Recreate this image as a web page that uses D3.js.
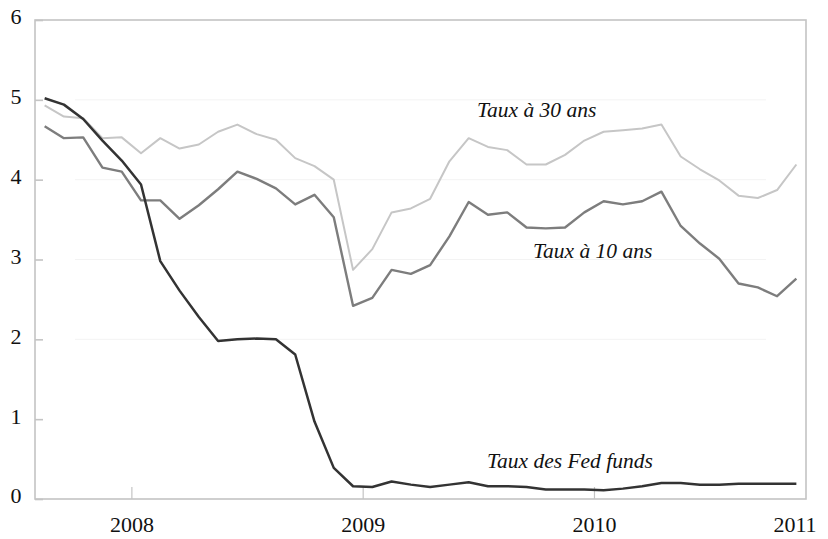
<!DOCTYPE html>
<html>
<head>
<meta charset="utf-8">
<script src="https://cdn.jsdelivr.net/npm/d3@7/dist/d3.min.js"></script>
<style>
  html, body { margin: 0; padding: 0; background: #fff; }
  svg { display: block; }
  text { font-family: "Liberation Serif", "Times New Roman", serif; fill: #111; }
</style>
</head>
<body>
<svg id="chart" width="828" height="539"></svg>
<script>
// Monthly data, Aug 2007 – Nov 2010
const months = [
  "2007-08","2007-09","2007-10","2007-11","2007-12",
  "2008-01","2008-02","2008-03","2008-04","2008-05","2008-06","2008-07","2008-08","2008-09","2008-10","2008-11","2008-12",
  "2009-01","2009-02","2009-03","2009-04","2009-05","2009-06","2009-07","2009-08","2009-09","2009-10","2009-11","2009-12",
  "2010-01","2010-02","2010-03","2010-04","2010-05","2010-06","2010-07","2010-08","2010-09","2010-10","2010-11"
];
const fedFunds = [
  5.02, 4.94, 4.76, 4.49, 4.24,
  3.94, 2.98, 2.61, 2.28, 1.98, 2.00, 2.01, 2.00, 1.81, 0.97, 0.39, 0.16,
  0.15, 0.22, 0.18, 0.15, 0.18, 0.21, 0.16, 0.16, 0.15, 0.12, 0.12, 0.12,
  0.11, 0.13, 0.16, 0.20, 0.20, 0.18, 0.18, 0.19, 0.19, 0.19, 0.19
];
const tenYear = [
  4.67, 4.52, 4.53, 4.15, 4.10,
  3.74, 3.74, 3.51, 3.68, 3.88, 4.10, 4.01, 3.89, 3.69, 3.81, 3.53, 2.42,
  2.52, 2.87, 2.82, 2.93, 3.29, 3.72, 3.56, 3.59, 3.40, 3.39, 3.40, 3.59,
  3.73, 3.69, 3.73, 3.85, 3.42, 3.20, 3.01, 2.70, 2.65, 2.54, 2.76
];
const thirtyYear = [
  4.93, 4.79, 4.77, 4.52, 4.53,
  4.33, 4.52, 4.39, 4.44, 4.60, 4.69, 4.57, 4.50, 4.27, 4.17, 4.00, 2.87,
  3.13, 3.59, 3.64, 3.76, 4.23, 4.52, 4.41, 4.37, 4.19, 4.19, 4.31, 4.49,
  4.60, 4.62, 4.64, 4.69, 4.29, 4.13, 3.99, 3.80, 3.77, 3.87, 4.19
];
const yTicks = [0, 1, 2, 3, 4, 5, 6];
const yGrid = [2, 3, 4, 5];
const xTickLabels = ["2008", "2009", "2010", "2011"];
const xTickMonths = ["2008-01", "2009-01", "2010-01", "2011-01"];
const seriesLabels = ["Taux à 30 ans", "Taux à 10 ans", "Taux des Fed funds"];

const svg = d3.select("#chart");
const mLeft = 35, mRight = 806, mTop = 20, mBottom = 499;

const x = d3.scaleLinear().domain([0, months.length]).range([mLeft, mRight]);
const y = d3.scaleLinear().domain([0, 6]).range([mBottom, mTop]);

// faint gridlines
svg.append("g").selectAll("line").data(yGrid).join("line")
  .attr("x1", mLeft + 40).attr("x2", mRight - 40)
  .attr("y1", d => y(d)).attr("y2", d => y(d))
  .attr("stroke", "#f3f3f3").attr("stroke-width", 1);

// frame
const frameColor = "#c4c4c4";
svg.append("rect")
  .attr("x", mLeft).attr("y", mTop)
  .attr("width", mRight - mLeft).attr("height", mBottom - mTop)
  .attr("fill", "none").attr("stroke", frameColor).attr("stroke-width", 1.6);

// Y axis (ticks inward)
const yAxis = d3.axisLeft(y).tickValues(yTicks).tickSize(-8).tickFormat(d3.format("d"));
const gy = svg.append("g").attr("transform", `translate(${mLeft},0)`).call(yAxis);
gy.select(".domain").remove();
gy.selectAll(".tick line").attr("stroke", frameColor).attr("stroke-width", 1.6);
gy.selectAll(".tick text")
  .attr("x", -19).attr("dy", "0.18em")
  .attr("text-anchor", "middle")
  .style("font-family", '"Liberation Serif", serif')
  .style("font-size", "22px").attr("fill", "#111");

// X axis (ticks at year boundaries, inward)
const tickPos = xTickMonths.map(m => {
  const i = months.indexOf(m);
  return i >= 0 ? i : months.length;
});
const xAxis = d3.axisBottom(x).tickValues(tickPos.slice(0, 3)).tickSize(-12)
  .tickFormat((d, i) => xTickLabels[i]);
const gx = svg.append("g").attr("transform", `translate(0,${mBottom})`).call(xAxis);
gx.select(".domain").remove();
gx.selectAll(".tick line").attr("stroke", frameColor).attr("stroke-width", 1.2);
gx.selectAll(".tick text")
  .attr("y", 17).attr("dy", "0.71em")
  .style("font-family", '"Liberation Serif", serif')
  .style("font-size", "22px").attr("fill", "#111");
// last year label at the right edge
gx.append("text")
  .attr("x", x(tickPos[3]) - 11).attr("y", 17).attr("dy", "0.71em")
  .attr("text-anchor", "middle")
  .style("font-family", '"Liberation Serif", serif')
  .style("font-size", "22px").attr("fill", "#111")
  .text(xTickLabels[3]);

// lines
const line = d3.line().x((d, i) => x(i + 0.5)).y(d => y(d));
const series = [
  { values: thirtyYear, color: "#c6c6c6", width: 2 },
  { values: tenYear, color: "#7d7d7d", width: 2.4 },
  { values: fedFunds, color: "#333333", width: 2.5 }
];
svg.append("g").selectAll("path").data(series).join("path")
  .attr("d", d => line(d.values))
  .attr("fill", "none")
  .attr("stroke", d => d.color)
  .attr("stroke-width", d => d.width)
  .attr("stroke-linejoin", "round");

// annotations
const ann = [
  { text: seriesLabels[0], x: 477, y: 117 },
  { text: seriesLabels[1], x: 533, y: 258 },
  { text: seriesLabels[2], x: 487, y: 468 }
];
svg.append("g").selectAll("text").data(ann).join("text")
  .attr("x", d => d.x).attr("y", d => d.y)
  .style("font-family", '"Liberation Serif", serif')
  .style("font-style", "italic")
  .style("font-size", "21.5px")
  .attr("fill", "#111")
  .text(d => d.text);
</script>
</body>
</html>
